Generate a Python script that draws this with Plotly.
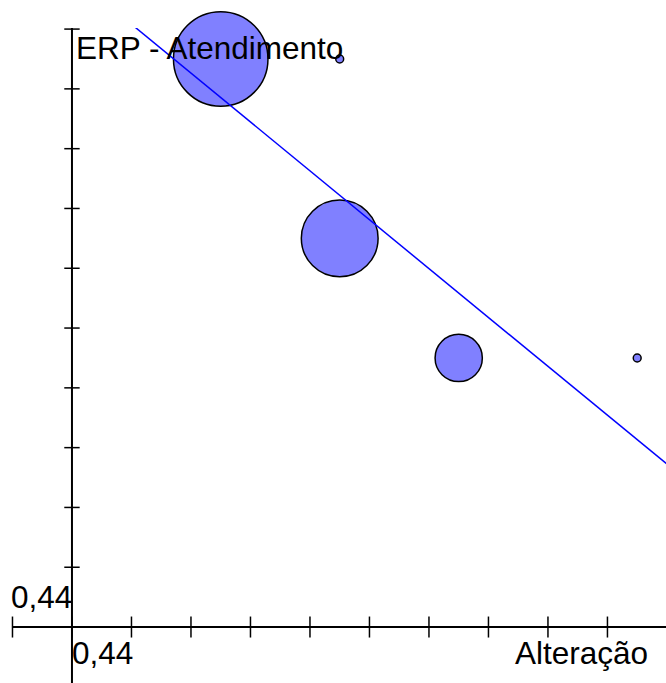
import plotly.graph_objects as go

# ---- data ----
ORIGIN = 0.44
STEP = 0.05
BUBBLE_X = [0.565, 0.665, 0.665, 0.765, 0.915]
BUBBLE_Y = [0.915, 0.915, 0.765, 0.665, 0.665]
BUBBLE_SIZE = [144, 1, 95, 36, 1]
TREND_X = [0.465, 0.965]
TREND_Y = [0.9645, 0.5558]
X_TICKS = [0.39, 0.44, 0.49, 0.54, 0.59, 0.64, 0.69, 0.74, 0.79, 0.84, 0.89]
Y_TICKS = [0.49, 0.54, 0.59, 0.64, 0.69, 0.74, 0.79, 0.84, 0.89, 0.94]
X_TITLE = "Alteração"
Y_TITLE = "ERP - Atendimento"
ORIGIN_LABEL = "0,44"

X_RANGE = [0.3896, 0.9392]
Y_RANGE = [0.3932, 0.9409]

FONT = "Liberation Sans, Arial, sans-serif"

fig = go.Figure()

# bubbles
fig.add_trace(go.Scatter(
    x=BUBBLE_X, y=BUBBLE_Y, mode="markers",
    marker=dict(size=BUBBLE_SIZE, sizemode="area", sizeref=2 * 144 / 94.5 ** 2,
                color="#8080ff", line=dict(color="black", width=1.5), opacity=1),
    cliponaxis=False, hoverinfo="skip",
))

# trend line
fig.add_trace(go.Scatter(
    x=TREND_X, y=TREND_Y, mode="lines",
    line=dict(color="#0000ff", width=1.5), hoverinfo="skip",
))

# axis ticks (crossing the axis lines)
fig.add_trace(go.Scatter(
    x=X_TICKS, y=[ORIGIN] * len(X_TICKS), mode="markers",
    marker=dict(symbol="line-ns", size=15, line=dict(color="black", width=1.5)),
    cliponaxis=False, hoverinfo="skip",
))
fig.add_trace(go.Scatter(
    x=[ORIGIN] * len(Y_TICKS), y=Y_TICKS, mode="markers",
    marker=dict(symbol="line-ew", size=11, line=dict(color="black", width=1.5)),
    cliponaxis=False, hoverinfo="skip",
))

# axis lines
fig.add_shape(type="line", xref="x", yref="y", x0=X_RANGE[0], x1=X_RANGE[1],
              y0=ORIGIN, y1=ORIGIN, line=dict(color="black", width=2), layer="above")
fig.add_shape(type="line", xref="x", yref="y", x0=ORIGIN, x1=ORIGIN,
              y0=Y_RANGE[0], y1=Y_RANGE[1], line=dict(color="black", width=2), layer="above")

font = dict(family=FONT, size=31.5, color="black")
fig.add_annotation(x=ORIGIN, y=Y_RANGE[1], xref="x", yref="y", text=Y_TITLE,
                   xanchor="left", yanchor="top", showarrow=False, font=font,
                   xshift=2, yshift=0)
fig.add_annotation(x=ORIGIN, y=ORIGIN, xref="x", yref="y", text=ORIGIN_LABEL,
                   xanchor="right", yanchor="bottom", showarrow=False, font=font,
                   xshift=2, yshift=10)
fig.add_annotation(x=ORIGIN, y=ORIGIN, xref="x", yref="y", text=ORIGIN_LABEL,
                   xanchor="left", yanchor="top", showarrow=False, font=font,
                   xshift=-2, yshift=-6)
fig.add_annotation(x=X_RANGE[1], y=ORIGIN, xref="x", yref="y", text=X_TITLE,
                   xanchor="right", yanchor="top", showarrow=False, font=font,
                   xshift=-16, yshift=-6)

axis_common = dict(showgrid=False, zeroline=False, showticklabels=False,
                   showline=False, ticks="", fixedrange=True)
fig.update_layout(
    width=666, height=683,
    margin=dict(l=12, r=0, t=28, b=0),
    paper_bgcolor="white", plot_bgcolor="white",
    showlegend=False, hovermode=False,
    xaxis=dict(range=X_RANGE, **axis_common),
    yaxis=dict(range=Y_RANGE, **axis_common),
)

fig.write_html("out.html")
